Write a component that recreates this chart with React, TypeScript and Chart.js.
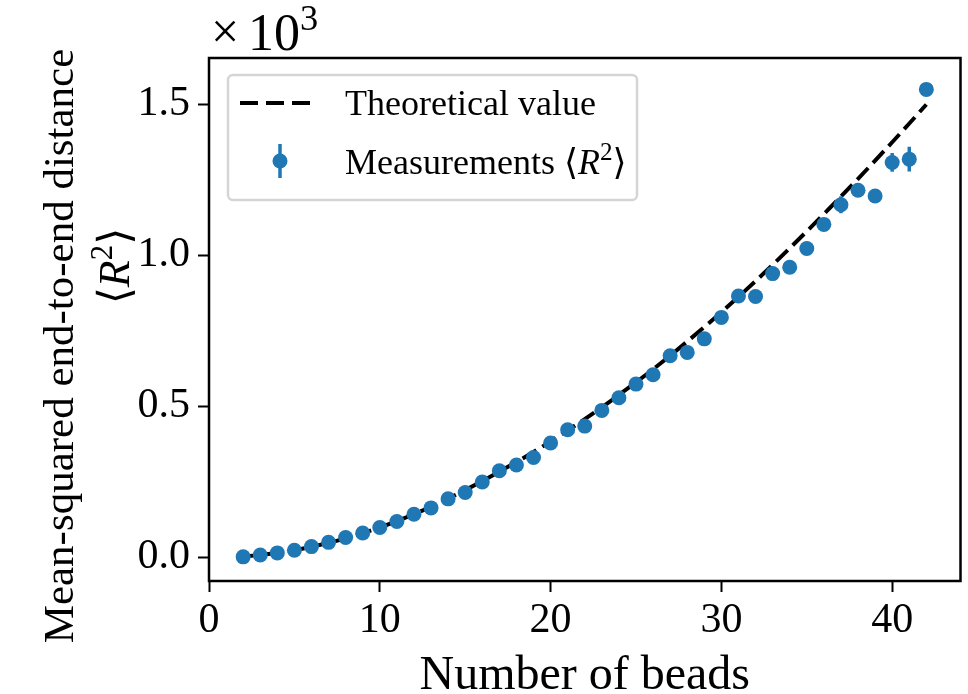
import React, { useEffect, useRef } from "react";
import { Chart, registerables } from "chart.js";

Chart.register(...registerables);

// Number of beads in the chain
const beads = [
  2, 3, 4, 5, 6, 7, 8, 9, 10, 11, 12, 13, 14, 15, 16, 17, 18, 19, 20, 21, 22,
  23, 24, 25, 26, 27, 28, 29, 30, 31, 32, 33, 34, 35, 36, 37, 38, 39, 40, 41, 42,
];

// Measured mean-squared end-to-end distance <R^2>
const measured = [
  1, 7, 14, 23, 35, 49, 65, 80, 98, 118, 142, 163, 193, 214, 249, 286, 305,
  330, 378, 422, 434, 486, 528, 573, 604, 667, 678, 723, 794, 865, 863, 939,
  960, 1022, 1102, 1167, 1215, 1196, 1307, 1318, 1549,
];

// Standard error of each measurement
const measuredErr = [
  0.5, 1, 1.5, 2, 3, 3, 4, 4, 5, 5, 6, 6, 7, 7, 8, 9, 9, 10, 10, 11, 11, 12,
  12, 13, 13, 14, 14, 15, 15, 16, 16, 17, 17, 18, 20, 28, 18, 16, 31, 41, 14,
];

// Theoretical <R^2> at each bead count
const theory = [
  2, 7, 14, 23, 34, 47, 62, 79, 98, 119, 142, 167, 194, 222, 252, 283, 315,
  348, 383, 420, 457, 496, 537, 579, 622, 667, 714, 762, 811, 862, 914, 968,
  1023, 1079, 1136, 1194, 1253, 1313, 1374, 1436, 1499,
];

const xTickStep = 10;
const yTickValues = [0, 500, 1000, 1500];

const SERIF = "'Liberation Serif', 'Times New Roman', 'DejaVu Serif', serif";
const BLUE = "#1f77b4";

// Text runs: plain, italic or superscript pieces drawn one after another
type Run = { text: string; italic?: boolean; sup?: boolean };
function runsWidth(ctx: CanvasRenderingContext2D, runs: Run[], size: number) {
  let w = 0;
  for (const r of runs) {
    const s = r.sup ? size * 0.7 : size;
    ctx.font = `${r.italic ? "italic " : ""}${s}px ${SERIF}`;
    w += ctx.measureText(r.text).width;
  }
  return w;
}
function drawRuns(
  ctx: CanvasRenderingContext2D,
  runs: Run[],
  x: number,
  y: number,
  size: number
) {
  let cx = x;
  for (const r of runs) {
    const s = r.sup ? size * 0.7 : size;
    ctx.font = `${r.italic ? "italic " : ""}${s}px ${SERIF}`;
    ctx.fillText(r.text, cx, r.sup ? y - size * 0.38 : y);
    cx += ctx.measureText(r.text).width;
  }
}

const r2Runs: Run[] = [
  { text: "\u27E8" },
  { text: "R", italic: true },
  { text: "2", sup: true },
  { text: "\u27E9" },
];

const errorBarPlugin = {
  id: "errorBars",
  afterDatasetDraw(chart: any, args: any) {
    if (args.index !== 0) return;
    const { ctx, chartArea, scales } = chart;
    ctx.save();
    ctx.beginPath();
    ctx.rect(chartArea.left, chartArea.top, chartArea.width, chartArea.height);
    ctx.clip();
    ctx.strokeStyle = BLUE;
    ctx.lineWidth = 3.5;
    beads.forEach((n, i) => {
      const px = scales.x.getPixelForValue(n);
      const y1 = scales.y.getPixelForValue(measured[i] - measuredErr[i]);
      const y2 = scales.y.getPixelForValue(measured[i] + measuredErr[i]);
      ctx.beginPath();
      ctx.moveTo(px, y1);
      ctx.lineTo(px, y2);
      ctx.stroke();
    });
    ctx.restore();
  },
};

const decorPlugin = {
  id: "decor",
  afterDraw(chart: any) {
    const { ctx, chartArea } = chart;
    ctx.save();

    // axes frame
    ctx.strokeStyle = "#000";
    ctx.lineWidth = 2.5;
    ctx.strokeRect(
      chartArea.left,
      chartArea.top,
      chartArea.right - chartArea.left,
      chartArea.bottom - chartArea.top
    );

    ctx.fillStyle = "#000";
    ctx.textBaseline = "alphabetic";
    ctx.textAlign = "left";

    // scale multiplier
    ctx.font = `50px ${SERIF}`;
    ctx.fillText("\u00D7", chartArea.left + 2, 48);
    drawRuns(
      ctx,
      [{ text: "10" }, { text: "3", sup: true }],
      chartArea.left + 39,
      50,
      52
    );

    // x axis title
    ctx.font = `48px ${SERIF}`;
    ctx.textAlign = "center";
    ctx.fillText("Number of beads", (chartArea.left + chartArea.right) / 2, 689);

    // y axis title (two lines, rotated)
    ctx.save();
    ctx.translate(62, 346);
    ctx.rotate(-Math.PI / 2);
    ctx.textBaseline = "middle";
    ctx.textAlign = "center";
    ctx.font = `43px ${SERIF}`;
    ctx.fillText("Mean-squared end-to-end distance", 0, 0);
    ctx.restore();

    ctx.save();
    ctx.translate(129, 266);
    ctx.rotate(-Math.PI / 2);
    ctx.textAlign = "left";
    ctx.textBaseline = "alphabetic";
    const w2 = runsWidth(ctx, r2Runs, 44);
    drawRuns(ctx, r2Runs, -w2 / 2, 0, 44);
    ctx.restore();

    // legend
    const lx = 228, ly = 75, lw = 409, lh = 125;
    ctx.fillStyle = "rgba(255,255,255,0.8)";
    ctx.strokeStyle = "#d5d5d5";
    ctx.lineWidth = 2.5;
    ctx.beginPath();
    ctx.roundRect(lx, ly, lw, lh, 5);
    ctx.fill();
    ctx.stroke();

    ctx.strokeStyle = "#000";
    ctx.lineWidth = 4;
    ctx.setLineDash([18, 8]);
    ctx.beginPath();
    ctx.moveTo(240, 103);
    ctx.lineTo(313, 103);
    ctx.stroke();
    ctx.setLineDash([]);

    ctx.strokeStyle = BLUE;
    ctx.lineWidth = 3.5;
    ctx.beginPath();
    ctx.moveTo(280, 144);
    ctx.lineTo(280, 178);
    ctx.stroke();
    ctx.fillStyle = BLUE;
    ctx.beginPath();
    ctx.arc(280, 161, 7.5, 0, Math.PI * 2);
    ctx.fill();

    ctx.fillStyle = "#000";
    ctx.textAlign = "left";
    ctx.textBaseline = "alphabetic";
    ctx.font = `36px ${SERIF}`;
    ctx.fillText("Theoretical value", 345, 115);
    drawRuns(ctx, [{ text: "Measurements " }, ...r2Runs], 345, 174, 36);

    ctx.restore();
  },
};

export default function App() {
  const canvasRef = useRef<HTMLCanvasElement | null>(null);

  useEffect(() => {
    const canvas = canvasRef.current;
    if (!canvas) return;
    const chart = new Chart(canvas, {
      type: "scatter",
      data: {
        datasets: [
          {
            label: "Theoretical value",
            data: beads.map((n, i) => ({ x: n, y: theory[i] })),
            showLine: true,
            borderColor: "#000",
            borderWidth: 4,
            borderDash: [16, 7],
            pointRadius: 0,
            fill: false,
            order: 1,
          },
          {
            label: "Measurements",
            data: beads.map((n, i) => ({ x: n, y: measured[i] })),
            showLine: false,
            backgroundColor: BLUE,
            borderColor: BLUE,
            borderWidth: 0,
            pointRadius: 7.5,
            order: 0,
          },
        ],
      },
      options: {
        responsive: false,
        animation: false,
        devicePixelRatio: 1,
        layout: { padding: { top: 58, right: 3, left: 0, bottom: 0 } },
        plugins: {
          legend: { display: false },
          tooltip: { enabled: false },
        },
        scales: {
          x: {
            type: "linear",
            min: 0,
            max: 44,
            afterFit: (s: any) => {
              s.height = 113;
            },
            ticks: {
              stepSize: xTickStep,
              includeBounds: false,
              color: "#000",
              padding: 4,
              maxRotation: 0,
              font: { family: SERIF, size: 42 },
            },
            grid: {
              drawOnChartArea: false,
              drawTicks: true,
              tickLength: 11,
              tickWidth: 2,
              tickColor: "#000",
            },
            border: { display: false },
          },
          y: {
            type: "linear",
            min: -79,
            max: 1653,
            afterFit: (s: any) => {
              s.width = 209;
            },
            afterBuildTicks: (s: any) => {
              s.ticks = yTickValues.map((v) => ({ value: v }));
            },
            ticks: {
              color: "#000",
              padding: 8,
              font: { family: SERIF, size: 42 },
              callback: (v: any) => (Number(v) / 1000).toFixed(1),
            },
            grid: {
              drawOnChartArea: false,
              drawTicks: true,
              tickLength: 11,
              tickWidth: 2,
              tickColor: "#000",
            },
            border: { display: false },
          },
        },
      },
      plugins: [errorBarPlugin, decorPlugin],
    });
    return () => chart.destroy();
  }, []);

  return (
    <div
      style={{
        position: "fixed",
        left: 0,
        top: 0,
        width: 968,
        height: 694,
        background: "#fff",
      }}
    >
      <canvas
        ref={canvasRef}
        width={968}
        height={694}
        style={{ width: 968, height: 694, display: "block" }}
      />
    </div>
  );
}
